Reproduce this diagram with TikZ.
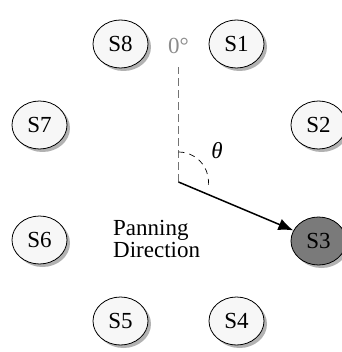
\documentclass[tikz,border=0pt]{standalone}
\usepackage{fontspec}
\setmainfont{Liberation Serif}
\usetikzlibrary{shapes.geometric,shadows,arrows.meta}

\begin{document}
\begin{tikzpicture}[x=1pt,y=-1pt,
    font=\fontsize{23}{22}\selectfont,
    speaker/.style={ellipse, draw=black, line width=0.8pt, fill=black!3,
      minimum width=55pt, minimum height=48pt, inner sep=0pt,
      drop shadow={shadow xshift=3pt, shadow yshift=-3pt, fill=black!30, opacity=1}},
    active/.style={speaker, fill=black!52},
    refline/.style={black!55, line width=1.4pt, dash pattern=on 8pt off 4pt},
    anglearc/.style={black, line width=0.7pt, dash pattern=on 6pt off 5pt},
    pan/.style={line width=1.5pt, -{Latex[length=15pt,width=12pt]}}]
  \useasboundingbox (0,0) rectangle (341,352);

  % listener position
  \coordinate (o) at (178.5,182);
  \coordinate (up) at (178.5,67);

  % ring of eight loudspeakers
  \node[speaker] (s1) at (236.5,44)  {S1};
  \node[speaker] (s2) at (318.5,125) {S2};
  \node[active]  (s3) at (318.5,241) {S3};
  \node[speaker] (s4) at (236.5,321) {S4};
  \node[speaker] (s5) at (120.5,321) {S5};
  \node[speaker] (s6) at (39.5,240)  {S6};
  \node[speaker] (s7) at (39.5,125)  {S7};
  \node[speaker] (s8) at (120.5,44)  {S8};

  % reference direction and panning angle
  \node[text=black!45] (zero) at (178.5,46) {0°};
  \draw[refline] (o) -- (up);
  \draw[anglearc] (178.5,152) arc[start angle=-90, end angle=6, radius=30];
  \node (theta) at (217,151) {\textit{θ}};
  \draw[pan] (o) -- (s3);

  \node[align=left, anchor=west, inner sep=0pt] (label) at (113,239) {Panning\\Direction};
\end{tikzpicture}
\end{document}
